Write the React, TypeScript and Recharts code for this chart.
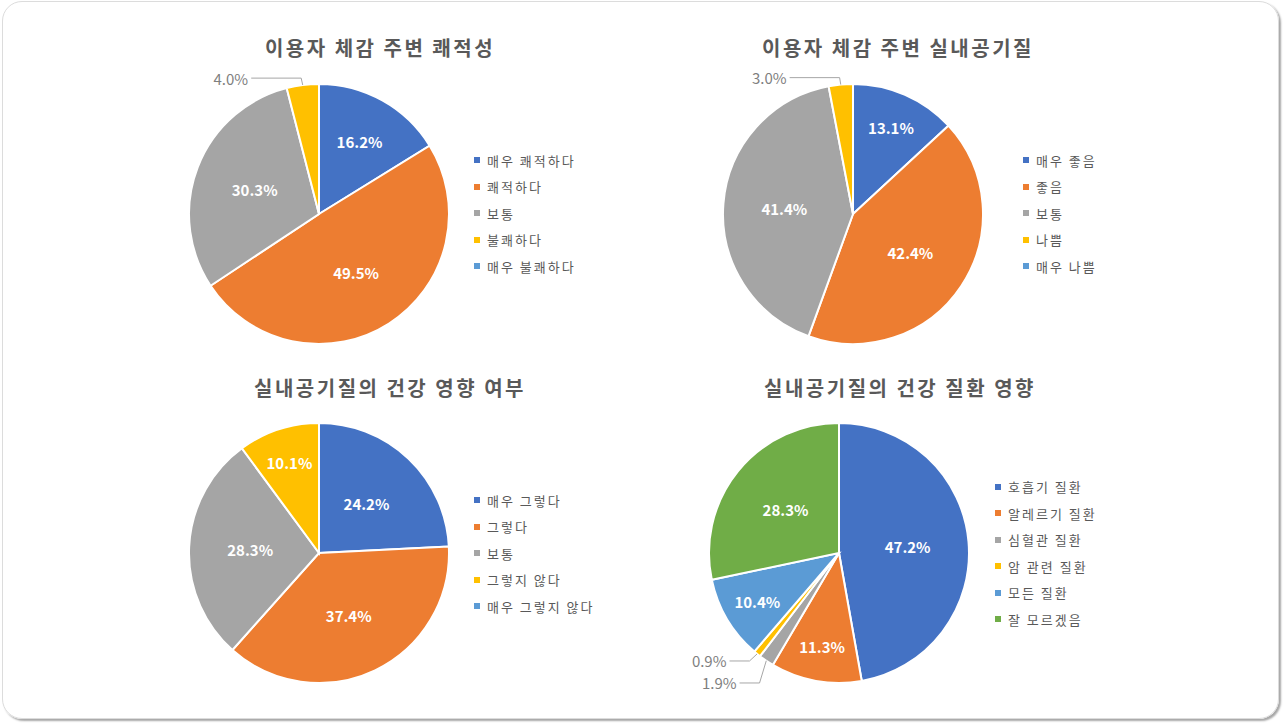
import { PieChart, Pie, Cell } from "recharts";

const comfortNames = ["매우 쾌적하다", "쾌적하다", "보통", "불쾌하다", "매우 불쾌하다"];
const comfortValues = [16.2, 49.5, 30.3, 4.0, 0];

const airNames = ["매우 좋음", "좋음", "보통", "나쁨", "매우 나쁨"];
const airValues = [13.1, 42.4, 41.4, 3.0, 0];

const healthNames = ["매우 그렇다", "그렇다", "보통", "그렇지 않다", "매우 그렇지 않다"];
const healthValues = [24.2, 37.4, 28.3, 10.1, 0];

const diseaseNames = ["호흡기 질환", "알레르기 질환", "심혈관 질환", "암 관련 질환", "모든 질환", "잘 모르겠음"];
const diseaseValues = [47.2, 11.3, 1.9, 0.9, 10.4, 28.3];

const titles = [
  "이용자 체감 주변 쾌적성",
  "이용자 체감 주변 실내공기질",
  "실내공기질의 건강 영향 여부",
  "실내공기질의 건강 질환 영향",
];

const COLORS = ["#4472C4", "#ED7D31", "#A5A5A5", "#FFC000", "#5B9BD5", "#70AD47"];
const FONT = "'Noto Sans CJK KR', 'Noto Sans', sans-serif";
const R = 130;
const RAD = Math.PI / 180;

type PanelProps = {
  title: string;
  names: string[];
  values: number[];
  left: number;
  top: number;
  cx: number;
  cy: number;
  titleX: number;
  titleY: number;
  legendX: number;
  legendY: number;
};

function Panel({ title, names, values, left, top, cx, cy, titleX, titleY, legendX, legendY }: PanelProps) {
  const data = names.map((name, i) => ({ name, value: values[i] }));
  const total = values.reduce((a, b) => a + b, 0);

  // small slices get an outside label with a leader line, spread so they don't collide
  const outside: Record<number, { x: number; y: number; t: number }> = {};
  let cum = 0;
  values.forEach((v, i) => {
    const t = ((cum + v / 2) / total) * 360;
    cum += v;
    if (v > 0 && v < 5) {
      outside[i] = { x: cx + (R + 12) * Math.sin(t * RAD), y: cy - (R + 12) * Math.cos(t * RAD) + 5, t };
    }
  });
  const keys = Object.keys(outside).map(Number).sort((a, b) => outside[a].y - outside[b].y);
  for (let k = 1; k < keys.length; k++) {
    const a = outside[keys[k - 1]];
    const b = outside[keys[k]];
    if (b.y - a.y < 22) {
      const m = (a.y + b.y) / 2;
      a.y = m - 11;
      b.y = m + 11;
    }
  }

  const renderLabel = (props: any) => {
    const i = props.index;
    const v = values[i];
    if (!v) return null;
    const text = v.toFixed(1) + "%";
    const o = outside[i];
    if (o) {
      const dir = Math.sin(o.t * RAD) < 0 ? -1 : 1;
      const len = Math.cos(o.t * RAD) > 0 ? 50 : 20;
      const sx = cx + R * Math.sin(o.t * RAD);
      const sy = cy - R * Math.cos(o.t * RAD);
      return (
        <g key={"l" + i}>
          <polyline
            points={`${sx},${sy} ${o.x},${o.y} ${o.x + dir * len},${o.y}`}
            fill="none"
            stroke="#A6A6A6"
            strokeWidth={1}
          />
          <text
            x={o.x + dir * (len + 3)}
            y={o.y}
            textAnchor={dir < 0 ? "end" : "start"}
            dominantBaseline="central"
            fill="#7F7F7F"
            fontSize={15}
            fontFamily={FONT}
          >
            {text}
          </text>
        </g>
      );
    }
    const p = v / total;
    const f = p < 0.15 ? 0.73 : p < 0.2 ? 0.64 : 0.53;
    const ang = -props.midAngle * RAD;
    return (
      <text
        key={"l" + i}
        x={props.cx + R * f * Math.cos(ang)}
        y={props.cy + R * f * Math.sin(ang)}
        textAnchor="middle"
        dominantBaseline="central"
        fill="#fff"
        fontSize={15}
        fontWeight="bold"
        fontFamily={FONT}
      >
        {text}
      </text>
    );
  };

  return (
    <div style={{ position: "absolute", left, top, width: 643, height: 363 }}>
      <div
        style={{
          position: "absolute",
          left: titleX - 250,
          width: 500,
          top: titleY - 15,
          textAlign: "center",
          fontFamily: FONT,
          fontSize: 20,
          fontWeight: "bold",
          color: "#595959",
          letterSpacing: 2.5,
          lineHeight: "30px",
        }}
      >
        {title}
      </div>
      <PieChart width={643} height={363} margin={{ top: 0, right: 0, bottom: 0, left: 0 }}>
        <Pie
          data={data}
          dataKey="value"
          nameKey="name"
          cx={cx}
          cy={cy}
          outerRadius={R}
          startAngle={90}
          endAngle={-270}
          stroke="#fff"
          strokeWidth={2}
          labelLine={false}
          label={renderLabel}
          isAnimationActive={false}
        >
          {data.map((d, i) => (
            <Cell key={d.name} fill={COLORS[i]} />
          ))}
        </Pie>
      </PieChart>
      <div
        style={{
          position: "absolute",
          left: legendX,
          top: legendY - (names.length * 26.5) / 2,
          fontFamily: FONT,
          fontSize: 13,
          color: "#595959",
        }}
      >
        {names.map((n, i) => (
          <div key={n} style={{ height: 26.5, display: "flex", alignItems: "center", whiteSpace: "nowrap" }}>
            <span style={{ width: 6, height: 6, background: COLORS[i], marginRight: 7, display: "inline-block" }} />
            <span style={{ letterSpacing: 2 }}>{n}</span>
          </div>
        ))}
      </div>
    </div>
  );
}

export default function App() {
  return (
    <div style={{ position: "absolute", left: 0, top: 0, width: 1286, height: 726, background: "#fff" }}>
      <div
        style={{
          position: "absolute",
          left: 2,
          top: 1,
          width: 1275,
          height: 716,
          border: "1px solid #DCDCDC",
          borderRadius: 20,
          boxShadow: "2px 2px 2px rgba(0,0,0,0.35)",
        }}
      />
      <Panel title={titles[0]} names={comfortNames} values={comfortValues}
        left={0} top={0} cx={319} cy={214} titleX={380} titleY={48} legendX={474} legendY={213} />
      <Panel title={titles[1]} names={airNames} values={airValues}
        left={643} top={0} cx={210} cy={214} titleX={255} titleY={48} legendX={380} legendY={213} />
      <Panel title={titles[2]} names={healthNames} values={healthValues}
        left={0} top={363} cx={319} cy={190} titleX={390} titleY={25} legendX={474} legendY={190} />
      <Panel title={titles[3]} names={diseaseNames} values={diseaseValues}
        left={643} top={363} cx={196} cy={190} titleX={257} titleY={25} legendX={352} legendY={190} />
    </div>
  );
}
